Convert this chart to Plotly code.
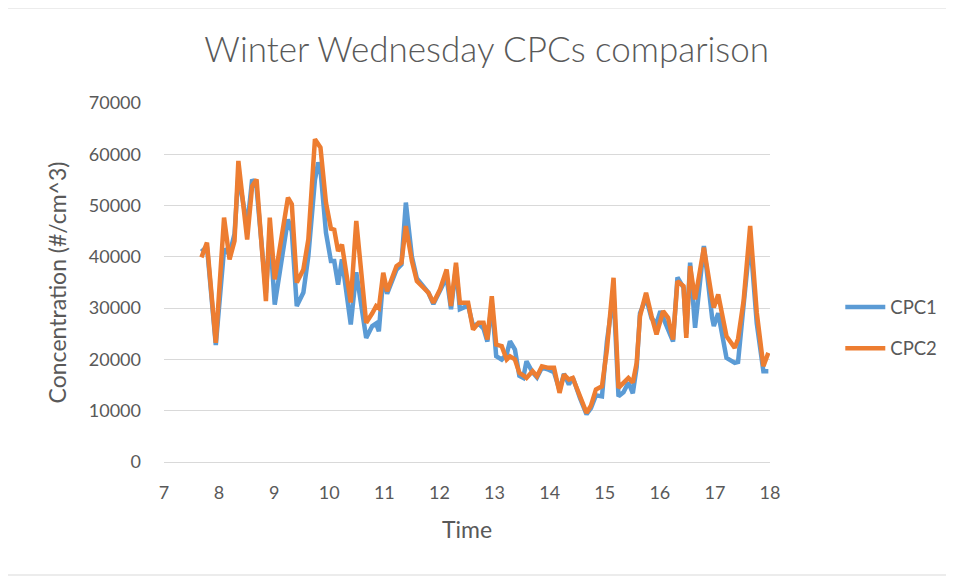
import plotly.graph_objects as go

time_h = [7.68, 7.78, 7.94, 8.09, 8.19, 8.28, 8.35, 8.51, 8.60, 8.68,
          8.85, 8.92, 9.01, 9.25, 9.32, 9.41, 9.53, 9.62, 9.74, 9.80,
          9.84, 9.94, 10.03, 10.09, 10.16, 10.23, 10.39, 10.49, 10.67, 10.78,
          10.85, 10.90, 10.98, 11.05, 11.22, 11.31, 11.39, 11.50, 11.59, 11.71,
          11.80, 11.89, 12.01, 12.13, 12.21, 12.30, 12.37, 12.52, 12.61, 12.71,
          12.80, 12.87, 12.95, 13.03, 13.13, 13.22, 13.28, 13.37, 13.45, 13.52,
          13.58, 13.69, 13.77, 13.86, 13.98, 14.08, 14.18, 14.26, 14.35, 14.42,
          14.55, 14.67, 14.75, 14.84, 14.95, 15.04, 15.16, 15.25, 15.34, 15.43,
          15.51, 15.58, 15.64, 15.75, 15.85, 15.94, 16.01, 16.06, 16.15, 16.24,
          16.32, 16.43, 16.48, 16.55, 16.64, 16.80, 16.95, 16.98, 17.06, 17.21,
          17.36, 17.42, 17.52, 17.64, 17.76, 17.88, 17.97]

cpc1 = [41000, 42000, 22800, 41500, 40500, 44500, 56000, 46000, 55100, 53500,
        33000, 45000, 30700, 47300, 45000, 30400, 33050, 40150, 55000, 58400,
        57000, 44700, 39180, 39180, 34600, 39500, 26800, 37000, 24200, 26500,
        27000, 25500, 36000, 32800, 37500, 38500, 50580, 40000, 35800, 34300,
        33000, 30800, 33400, 36000, 29800, 38000, 29800, 30500, 26500, 27000,
        26000, 23500, 31000, 20620, 19980, 21000, 23550, 21930, 16800, 16400,
        19650, 17500, 16500, 18400, 18000, 17500, 14000, 17200, 15100, 16500,
        12500, 9300, 10500, 13000, 12800, 23500, 33000, 12800, 13600, 15500,
        13400, 18500, 29000, 32000, 28000, 27000, 29400, 28000, 26000, 23500,
        36000, 34000, 25000, 38860, 26170, 42130, 28100, 26500, 29000, 20300,
        19330, 19500, 30500, 43500, 27000, 17700, 17700]

cpc2 = [39900, 42770, 23240, 47650, 39500, 43090, 58700, 43400, 53800, 55100,
        31370, 47650, 35600, 51560, 50250, 35000, 37550, 43400, 62950, 62000,
        61300, 50580, 45500, 45300, 41100, 42400, 31100, 47000, 27150, 29000,
        30400, 30000, 36900, 33300, 38200, 38860, 46000, 39180, 35270, 33980,
        33000, 31050, 33650, 37550, 30400, 38860, 31050, 31050, 25840, 27150,
        27150, 23890, 32340, 22900, 22580, 19980, 20620, 20000, 17380, 16900,
        16400, 17700, 16720, 18670, 18360, 18360, 13480, 17050, 16070, 16400,
        12810, 9570, 11000, 14120, 14770, 21930, 35930, 14450, 15430, 16400,
        15500, 19330, 28440, 33000, 28440, 24860, 27500, 29400, 28120, 23890,
        35270, 34290, 24210, 38200, 31700, 41800, 31700, 30100, 32670, 24530,
        22260, 24000, 31370, 46010, 29100, 18670, 21290]

x_ticks = list(range(7, 19))
y_ticks = list(range(0, 70001, 10000))

FONT = "Lato"
GREY = "#595959"

fig = go.Figure()
fig.add_trace(go.Scatter(x=time_h, y=cpc1, mode="lines", name="CPC1", legendgroup="a",
                         line=dict(color="#5B9BD5", width=4.5)))
fig.add_trace(go.Scatter(x=time_h, y=cpc2, mode="lines", name="CPC2", legendgroup="b",
                         line=dict(color="#ED7D31", width=4.5)))

fig.update_layout(
    width=946, height=568,
    margin=dict(l=156, r=184, t=95, b=114, autoexpand=False),
    paper_bgcolor="white", plot_bgcolor="white",
    font=dict(family=FONT, color=GREY),
    title=dict(text="Winter Wednesday CPCs comparison", x=0.506, xanchor="center",
               y=0.926, yanchor="middle",
               font=dict(family=FONT, size=35, color=GREY, weight=300)),
    legend=dict(x=1.116, y=0.373, xanchor="left", yanchor="middle",
                font=dict(size=18.5, color=GREY), tracegroupgap=14,
                itemwidth=40, bgcolor="rgba(0,0,0,0)"),
    shapes=[dict(type="rect", xref="paper", yref="paper",
                 x0=-0.259, x1=1.292, y0=-0.3148, y1=1.2646,
                 line=dict(color="#D9D9D9", width=1), layer="below")],
)
fig.update_xaxes(range=[7, 18], tickvals=x_ticks, showgrid=False, zeroline=False,
                 showline=True, linecolor="#D9D9D9", linewidth=1,
                 ticks="", tickfont=dict(size=18, color=GREY),
                 ticklabelstandoff=14,
                 title=dict(text="Time", font=dict(size=23, color=GREY), standoff=20))
fig.update_yaxes(range=[0, 70000], tickvals=y_ticks, tickformat="d", showgrid=True,
                 gridcolor="#D9D9D9", gridwidth=1, zeroline=False, showline=False,
                 ticks="", tickfont=dict(size=18, color=GREY),
                 ticklabelstandoff=22,
                 title=dict(text="Concentration (#/cm^3)", font=dict(size=23, color=GREY),
                            standoff=15))

fig.write_html("out.html")
